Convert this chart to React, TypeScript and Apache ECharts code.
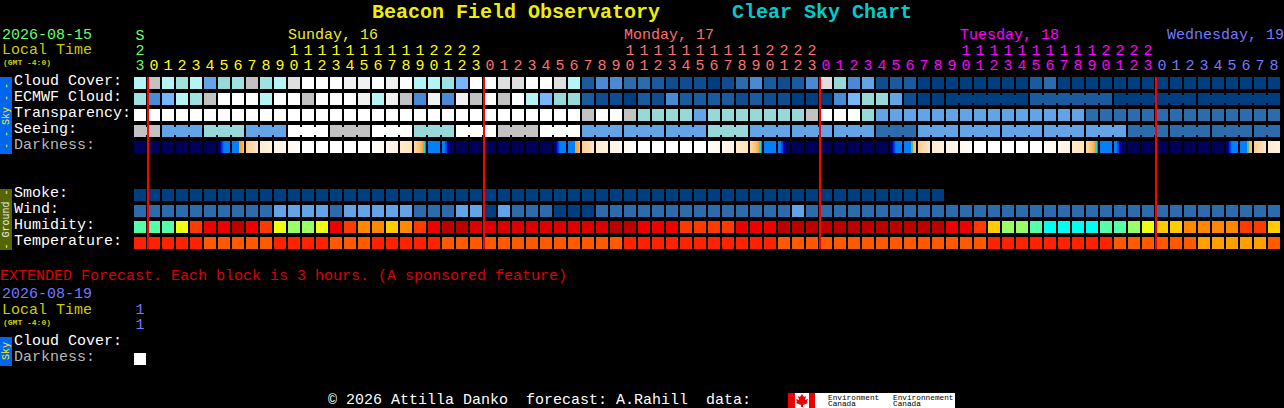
import React, { useEffect, useRef } from "react";
import * as echarts from "echarts";

const rowNames = ["Cloud Cover:", "ECMWF Cloud:", "Transparency:", "Seeing:", "Darkness:", "", "", "Smoke:", "Wind:", "Humidity:", "Temperature:"];
const hourLabels = [
  "S\n2\n3", "0", "1", "2", "3", "4", "5", "6", "7", "8", "9", "1\n0", "1\n1", "1\n2", "1\n3", "1\n4", "1\n5", "1\n6", "1\n7", "1\n8", "1\n9", "2\n0", "2\n1", "2\n2", "2\n3",
  "0", "1", "2", "3", "4", "5", "6", "7", "8", "9", "1\n0", "1\n1", "1\n2", "1\n3", "1\n4", "1\n5", "1\n6", "1\n7", "1\n8", "1\n9", "2\n0", "2\n1", "2\n2", "2\n3",
  "0", "1", "2", "3", "4", "5", "6", "7", "8", "9", "1\n0", "1\n1", "1\n2", "1\n3", "1\n4", "1\n5", "1\n6", "1\n7", "1\n8", "1\n9", "2\n0", "2\n1", "2\n2", "2\n3",
  "0", "1", "2", "3", "4", "5", "6", "7", "8",
];
const dayOfColumn = [
  0,
  1, 1, 1, 1, 1, 1, 1, 1, 1, 1, 1, 1, 1, 1, 1, 1, 1, 1, 1, 1, 1, 1, 1, 1,
  2, 2, 2, 2, 2, 2, 2, 2, 2, 2, 2, 2, 2, 2, 2, 2, 2, 2, 2, 2, 2, 2, 2, 2,
  3, 3, 3, 3, 3, 3, 3, 3, 3, 3, 3, 3, 3, 3, 3, 3, 3, 3, 3, 3, 3, 3, 3, 3,
  4, 4, 4, 4, 4, 4, 4, 4, 4,
];
const midnightColumns = [1, 25, 49, 73];

const cloudCover = [
  "c", "g", "c", "T", "c", "b", "t", "T", "g", "T", "c", "e", "W", "W", "W", "w", "w", "W", "w", "W",
  "c", "c", "T", "L", "W", "W", "e", "e", "W", "W", "e", "c", "D", "m", "m", "d", "d", "D", "n", "n",
  "n", "N", "n", "d", "m", "D", "n", "D", "m", "e", "t", "m", "b", "n", "D", "D", "N", "N", "N", "N",
  "N", "N", "N", "N", "D", "d", "N", "N", "N", "N", "N", "N", "N", "N", "N", "N", "N", "N", "N", "N", "N", "N",
];
const ecmwfCloud = [
  "T", "m", "L", "c", "T", "g", "W", "W", "W", "c", "W", "W", "g", "W", "W", "W", "w", "c", "w", "g",
  "m", "w", "m", "w", "g", "W", "g", "W", "c", "L", "t", "t", "D", "n", "n", "N", "D", "n", "m", "D",
  "D", "D", "D", "n", "D", "n", "n", "N", "N", "N", "m", "L", "t", "t", "b", "n", "N", "N", "N", "N",
  "N", "N", "N", "N", "D", "D", "D", "D", "D", "D", "N", "N", "N", "N", "N", "N", "N", "N", "N", "N", "N", "N",
];
const ecmwfBlocks = [
  1, 1, 1, 1, 1, 1, 1, 1, 1, 1, 1, 1, 1, 1, 1, 1, 1, 1, 1, 1, 1, 1, 1, 1, 1, 1, 1, 1, 1,
  1, 1, 1, 1, 1, 1, 1, 1, 1, 1, 1, 1, 1, 1, 1, 1, 1, 1, 1, 1, 1, 1, 1, 1, 1, 1, 1, 1, 1,
  6, 6, 6, 6,
];
const transparency = [
  "W", "W", "W", "W", "W", "W", "W", "W", "W", "W", "W", "W", "W", "W", "W", "W", "W", "W", "W", "W",
  "W", "W", "W", "W", "W", "W", "W", "W", "W", "W", "W", "W", "g", "W", "W", "g", "t", "t", "t", "t",
  "b", "t", "t", "t", "t", "t", "t", "t", "g", "W", "W", "W", "t", "b", "b", "b", "b", "b", "b", "b",
  "b", "b", "b", "b", "b", "b", "b", "b", "d", "d", "d", "d", "d", "d", "d", "d", "d", "d", "d", "d", "d", "d",
];
const seeing = [
  "g", "g", "b", "b", "b", "t", "t", "t", "b", "b", "b", "W", "W", "W", "g", "g", "g", "W", "W", "W",
  "t", "t", "t", "W", "W", "W", "g", "g", "g", "W", "W", "W", "b", "b", "b", "b", "b", "b", "b", "b",
  "b", "t", "t", "t", "b", "b", "b", "b", "b", "b", "b", "b", "b", "d", "d", "d", "b", "b", "b", "b",
  "b", "b", "b", "b", "b", "b", "b", "b", "b", "b", "b", "d", "d", "d", "d", "d", "d", "d", "d", "d", "d", "d",
];
const seeingBlocks = [2, 3, 3, 3, 3, 3, 3, 3, 3, 3, 3, 3, 3, 3, 3, 3, 3, 3, 3, 3, 3, 3, 3, 3, 3, 3, 3, 2];
const darkness = [
  "x", "x", "x", "x", "x", "x", "A", "B", "1", "2", "3", "4", "5", "5", "5", "5", "5", "6", "7", "8", "C", "E", "F",
  "x", "x", "x", "x", "x", "x", "x", "A", "B", "1", "2", "3", "4", "5", "5", "5", "5", "5", "6", "7", "8", "C", "E", "F",
  "x", "x", "x", "x", "x", "x", "x", "A", "P", "1", "2", "3", "4", "5", "5", "5", "5", "5", "6", "7", "8", "C", "E", "F",
  "x", "x", "x", "x", "x", "x", "x", "A", "P", "1", "2",
];
const smoke = [
  "N", "N", "N", "N", "N", "N", "N", "N", "N", "N", "N", "N", "N", "N", "N", "N", "N", "N", "N", "N",
  "N", "N", "N", "N", "N", "N", "N", "N", "N", "N", "N", "N", "N", "N", "N", "N", "N", "N", "N", "N",
  "N", "N", "N", "N", "N", "N", "N", "N", "N", "N", "N", "N", "N", "N", "N", "N", "N", "N",
];
const wind = [
  "d", "d", "d", "d", "d", "d", "d", "d", "d", "d", "b", "b", "b", "b", "d", "b", "b", "b", "b", "b",
  "d", "d", "d", "b", "b", "N", "b", "d", "d", "d", "N", "N", "N", "d", "d", "d", "d", "d", "d", "d",
  "d", "d", "d", "d", "d", "d", "d", "b", "d", "d", "d", "d", "d", "d", "d", "d", "d", "d", "d", "d",
  "d", "d", "d", "d", "d", "d", "d", "d", "d", "d", "d", "d", "d", "d", "d", "d", "d", "d", "d", "d", "d", "d",
];
const humidity = [
  "M", "M", "M", "Y", "R", "q", "q", "r", "q", "R", "Y", "G", "G", "Y", "q", "R", "O", "O", "a", "O",
  "R", "q", "r", "r", "f", "f", "f", "f", "f", "f", "f", "f", "f", "f", "r", "r", "q", "q", "q", "R",
  "R", "R", "R", "q", "q", "q", "r", "r", "r", "r", "r", "r", "r", "r", "r", "r", "r", "r", "q", "q",
  "R", "a", "G", "G", "M", "z", "z", "z", "z", "M", "M", "G", "Y", "a", "a", "O", "O", "O", "O", "R", "R", "a",
];
const temperature = [
  "H", "H", "H", "H", "H", "J", "J", "J", "J", "J", "H", "H", "H", "H", "J", "J", "J", "H", "H", "H",
  "H", "H", "J", "J", "J", "J", "J", "J", "J", "J", "J", "J", "J", "J", "J", "H", "H", "H", "H", "H",
  "H", "H", "H", "H", "H", "H", "J", "J", "J", "J", "J", "J", "J", "J", "J", "J", "J", "J", "J", "J",
  "J", "H", "H", "H", "H", "H", "H", "H", "H", "H", "J", "J", "J", "J", "J", "J", "K", "K", "K", "K", "K", "J",
];
const extendedHours = ["1\n1"];
const extendedRows = ["Cloud Cover:", "Darkness:"];
const extendedDarkness = ["5"];

const solid: Record<string, string> = {
  W: "#ffffff", w: "#f1f1f1", e: "#dfdfdf", g: "#c2c2c2", c: "#b4f4f4", T: "#9fe2e2", t: "#99d8d8",
  L: "#77b5fe", b: "#63a4e6", m: "#4a8ad4", d: "#2c6cad", D: "#1a5a9e", n: "#0f4d90", N: "#003f7f",
  M: "#55ffaa", Y: "#eeff11", R: "#ff3a00", q: "#ee0000", f: "#dd0000", r: "#bb0000", G: "#99ff66",
  O: "#ff8800", a: "#ffcc00", z: "#00ffee", H: "#ff2200", J: "#ff5a00", K: "#ffa000",
  x: "#000058", "5": "#ffffff",
};
type Stops = [number, string][];
const shaded: Record<string, Stops> = {
  A: [[0, "#000070"], [0.2, "#000070"], [0.2, "#0000b0"], [0.36, "#0040e0"], [0.5, "#0080ff"], [1, "#0080ff"]],
  B: [[0, "#0080ff"], [0.62, "#0080ff"], [0.62, "#ffa020"], [0.85, "#ffa830"], [1, "#ffc870"]],
  P: [[0, "#0080ff"], [0.62, "#0080ff"], [0.62, "#66b088"], [0.78, "#66b088"], [0.78, "#ffb040"], [1, "#ffc060"]],
  "1": [[0, "#ffcd90"], [1, "#ffe6c4"]],
  "2": [[0, "#ffeacc"], [1, "#fff2e0"]],
  "3": [[0, "#fff2e2"], [1, "#fff8ee"]],
  "4": [[0, "#fff9f0"], [1, "#fffdf9"]],
  "6": [[0, "#fffdf9"], [1, "#fff9f0"]],
  "7": [[0, "#fff8ee"], [1, "#fff2e0"]],
  "8": [[0, "#ffeacc"], [1, "#ffe2b8"]],
  C: [[0, "#ffd8a8"], [0.5, "#ffc070"], [0.75, "#ffa030"], [0.75, "#00e0ff"], [0.9, "#00e0ff"], [0.9, "#0080ff"], [1, "#0080ff"]],
  E: [[0, "#0080ff"], [1, "#0080ff"]],
  F: [[0, "#0080ff"], [0.25, "#0080ff"], [0.25, "#0048d8"], [0.42, "#0048d8"], [0.42, "#00009a"], [0.65, "#00009a"], [0.65, "#000070"], [1, "#000068"]],
};
const dayColors = ["#66ff66", "#ffff00", "#ff7070", "#ff00ff", "#7777ff"];
const MONO = "'Liberation Mono', monospace";

const fillOf = (key: string): any => {
  const stops = shaded[key];
  if (!stops) return solid[key];
  return new echarts.graphic.LinearGradient(0, 0, 1, 0, stops.map(([offset, color]) => ({ offset, color })));
};

const keys: string[] = [];
const keyIndex = (k: string) => {
  let i = keys.indexOf(k);
  if (i < 0) { keys.push(k); i = keys.length - 1; }
  return i;
};

const linksFrom = (blocks: number[]) => {
  const out: number[] = [];
  blocks.forEach((size) => { for (let i = 0; i < size; i++) out.push(i < size - 1 ? 1 : 0); });
  return out;
};

const buildRow = (row: number, values: string[], links?: number[]) =>
  values.map((k, col) => [col, row, keyIndex(k), links ? links[col] : 0]);

const mainCells = [
  ...buildRow(0, cloudCover),
  ...buildRow(1, ecmwfCloud, linksFrom(ecmwfBlocks)),
  ...buildRow(2, transparency),
  ...buildRow(3, seeing, linksFrom(seeingBlocks)),
  ...buildRow(4, darkness),
  ...buildRow(7, smoke),
  ...buildRow(8, wind),
  ...buildRow(9, humidity),
  ...buildRow(10, temperature),
];
const extendedCells = buildRow(1, extendedDarkness);

const renderCell = (_p: any, api: any) => {
  const [cx, cy] = api.coord([api.value(0), api.value(1)]);
  const fill = fillOf(keys[api.value(2)]);
  const children: any[] = [
    { type: "rect", shape: { x: cx - 6, y: cy - 6, width: 12, height: 12 }, style: { fill } },
  ];
  if (api.value(3)) {
    children.push({ type: "rect", shape: { x: cx + 6, y: cy - 4, width: 2, height: 8 }, style: { fill } });
  }
  return { type: "group", children };
};

const renderMidnight = (_p: any, api: any) => {
  const col = api.value(0);
  const [cx, top] = api.coord([col, 0]);
  const [, bottom] = api.coord([col, rowNames.length - 1]);
  return {
    type: "rect",
    shape: { x: cx - 7, y: top - 6, width: 2, height: bottom - top + 12 },
    style: { fill: "#ff0000" },
  };
};

const text = (str: string, x: number, y: number, fill: string, size = 15, weight = "normal", el: any = {}) => ({
  type: "text",
  x,
  y,
  silent: true,
  ...el,
  style: { text: str, fill, font: `${weight} ${size}px ${MONO}`, textAlign: "left", textVerticalAlign: "middle" },
});
const tabText = (str: string, y: number, fill: string) => ({
  type: "text",
  x: 6,
  y,
  rotation: Math.PI / 2,
  silent: true,
  style: { text: str, fill, font: `normal 10px ${MONO}`, textAlign: "center", textVerticalAlign: "middle" },
});
const box = (x: number, y: number, width: number, height: number, fill: string) => ({
  type: "rect",
  silent: true,
  shape: { x, y, width, height },
  style: { fill },
});

const yAxisBase = (data: string[], index: number) => ({
  type: "category",
  gridIndex: index,
  inverse: true,
  data,
  axisLine: { show: false },
  axisTick: { show: false },
  splitLine: { show: false },
  axisLabel: {
    interval: 0,
    align: "left",
    verticalAlign: "bottom",
    lineHeight: 3,
    margin: 119,
    fontFamily: MONO,
    fontSize: 15,
    color: (v: string) => (v === "Darkness:" ? "#b8b8b8" : "#ffffff"),
  },
});

export default function App() {
  const ref = useRef<HTMLDivElement>(null);
  useEffect(() => {
    const chart = echarts.init(ref.current!, undefined, { renderer: "svg" });
    chart.setOption({
      animation: false,
      backgroundColor: "#000000",
      grid: [
        { left: 133, top: 75, width: 1148, height: 176 },
        { left: 133, top: 335, width: 14, height: 32 },
      ],
      xAxis: [
        {
          type: "category",
          gridIndex: 0,
          position: "top",
          data: hourLabels,
          axisLine: { show: false },
          axisTick: { show: false },
          splitLine: { show: false },
          axisLabel: {
            interval: 0,
            margin: 1,
            fontFamily: MONO,
            fontSize: 15,
            lineHeight: 15,
            color: (_v: string, i: number) => dayColors[dayOfColumn[i]],
          },
        },
        {
          type: "category",
          gridIndex: 1,
          position: "top",
          data: extendedHours,
          axisLine: { show: false },
          axisTick: { show: false },
          splitLine: { show: false },
          axisLabel: { interval: 0, margin: 2, fontFamily: MONO, fontSize: 15, lineHeight: 15, color: dayColors[4] },
        },
      ],
      yAxis: [yAxisBase(rowNames, 0), yAxisBase(extendedRows, 1)],
      series: [
        {
          type: "custom",
          xAxisIndex: 0,
          yAxisIndex: 0,
          data: mainCells,
          encode: { x: 0, y: 1 },
          renderItem: renderCell,
          clip: false,
          silent: true,
        },
        {
          type: "custom",
          xAxisIndex: 1,
          yAxisIndex: 1,
          data: extendedCells,
          encode: { x: 0, y: 1 },
          renderItem: renderCell,
          clip: false,
          silent: true,
        },
        {
          type: "custom",
          xAxisIndex: 0,
          yAxisIndex: 0,
          data: midnightColumns.map((c) => [c, 0]),
          encode: { x: 0, y: 1 },
          renderItem: renderMidnight,
          clip: false,
          silent: true,
          z: 5,
        },
      ],
      graphic: [
        text("Beacon Field Observatory", 372, 12, "#eeee00", 20, "bold"),
        text("Clear Sky Chart", 732, 12, "#00cccc", 20, "bold"),
        text("2026-08-15", 2, 35, dayColors[0]),
        text("Local Time", 2, 50, "#cccc00"),
        text("(GMT -4:0)", 3, 62, "#cccc00", 8, "bold"),
        text("Sunday, 16", 288, 35, "#eeee22"),
        text("Monday, 17", 624, 35, dayColors[2]),
        text("Tuesday, 18", 960, 35, dayColors[3]),
        text("Wednesday, 19", 1167, 35, dayColors[4]),
        box(0, 77, 12, 77, "#0066ee"),
        tabText("- - Sky - -", 116, "#ffee00"),
        box(0, 189, 12, 61, "#556600"),
        tabText("- Ground -", 219.5, "#eeeeee"),
        text("EXTENDED Forecast. Each block is 3 hours. (A sponsored feature)", 0, 276, "#dd0000"),
        text("2026-08-19", 2, 294, dayColors[4]),
        text("Local Time", 2, 310, "#cccc00"),
        text("(GMT -4:0)", 3, 322, "#cccc00", 8, "bold"),
        box(0, 337, 12, 29, "#0066ee"),
        tabText("Sky", 351, "#ffee00"),
        text("© 2026 Attilla Danko  forecast: A.Rahill  data:", 328, 400, "#ffffff"),
        box(788, 393, 167, 15, "#ffffff"),
        box(788, 393, 7, 15, "#ee0000"),
        box(809, 393, 6, 15, "#ee0000"),
        {
          type: "polygon",
          silent: true,
          shape: {
            points: [
              [802, 394], [804, 397], [806, 396], [805, 400], [808, 399], [807, 402], [808, 403],
              [803, 405], [803, 407], [801, 407], [801, 405], [796, 403], [797, 402], [796, 399], [799, 400], [798, 396], [800, 397],
            ],
          },
          style: { fill: "#ee0000" },
        },
        text("Environment", 828, 397, "#000000", 8, "normal", { scaleX: 0.97 }),
        text("Canada", 828, 403.5, "#000000", 8, "normal", { scaleX: 0.97 }),
        text("Environnement", 893, 397, "#000000", 8, "normal", { scaleX: 0.97 }),
        text("Canada", 893, 403.5, "#000000", 8, "normal", { scaleX: 0.97 }),
      ],
    });
    return () => chart.dispose();
  }, []);
  return <div ref={ref} style={{ position: "absolute", left: 0, top: 0, width: 1284, height: 408 }} />;
}
